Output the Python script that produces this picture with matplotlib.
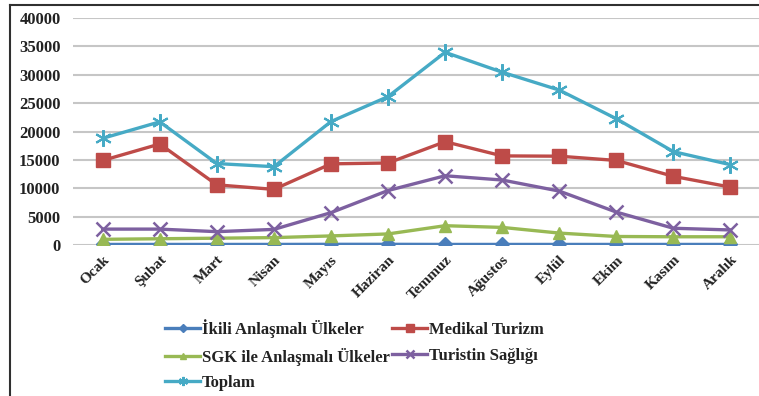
import matplotlib
matplotlib.use("Agg")
import matplotlib.pyplot as plt
from matplotlib.lines import Line2D

months = ["Ocak", "Şubat", "Mart", "Nisan", "Mayıs", "Haziran", "Temmuz",
          "Ağustos", "Eylül", "Ekim", "Kasım", "Aralık"]
ikili = [100, 100, 100, 100, 120, 120, 100, 100, 100, 100, 100, 100]
medikal = [14900, 17800, 10600, 9800, 14300, 14450, 18200, 15700, 15650, 14900, 12100, 10200]
sgk = [1000, 1100, 1200, 1300, 1600, 1950, 3400, 3100, 2100, 1500, 1450, 1450]
turistin = [2800, 2800, 2350, 2750, 5700, 9600, 12200, 11450, 9500, 5800, 2950, 2650]
toplam = [18800, 21700, 14350, 13800, 21750, 26150, 33950, 30450, 27300, 22250, 16450, 14150]
yticks = [0, 5000, 10000, 15000, 20000, 25000, 30000, 35000, 40000]

plt.rcParams['font.family'] = ['Liberation Serif', 'DejaVu Serif']

fig = plt.figure(figsize=(7.59, 3.96), dpi=100)
ax = fig.add_axes([73/759, 1-245/396, 1-73/759, (245-18)/396])

x = list(range(len(months)))
lw = 2.4
h1, = ax.plot(x, ikili, color='#4A7EBB', lw=lw, marker='D', ms=7, label='İkili Anlaşmalı Ülkeler', zorder=3)
h2, = ax.plot(x, medikal, color='#BE4B48', lw=lw, marker='s', ms=10, label='Medikal Turizm', zorder=3)
h3, = ax.plot(x, sgk, color='#98B954', lw=lw, marker='^', ms=9, label='SGK ile Anlaşmalı Ülkeler', zorder=3)
h4, = ax.plot(x, turistin, color='#7D60A0', lw=lw, marker='x', ms=10, mew=1.8, label='Turistin Sağlığı', zorder=3)
h5, = ax.plot(x, toplam, color='#46AAC5', lw=lw, marker=(6, 2, 0), ms=12, mew=1.5, label='Toplam', zorder=3)

ax.set_xlim(-0.52, 11.5)
ax.set_ylim(0, 40000)
ax.set_yticks(yticks)
ax.set_yticklabels([str(v) for v in yticks], fontsize=12, fontweight='bold', color='#222222')
ax.set_xticks(x)
ax.set_xticklabels(months, rotation=45, ha='right', rotation_mode='anchor',
                   fontsize=11, fontweight='bold', color='#222222')
ax.tick_params(axis='both', length=0)
ax.tick_params(axis='y', pad=9)
ax.tick_params(axis='x', pad=6)
ax.grid(axis='y', color='#c6c6c6', lw=1.5, zorder=0)
for s in ax.spines.values():
    s.set_visible(False)

handles = [h1, h3, h5, h2, h4]
leg = fig.legend(handles=handles, labels=[h.get_label() for h in handles], ncol=2,
                 loc='upper left', bbox_to_anchor=(150/759, 1-304/396), frameon=False,
                 prop={'size': 12, 'weight': 'bold'}, handlelength=2.1, handletextpad=0.1,
                 columnspacing=0.15, labelspacing=0.58, markerscale=0.55)
for t in leg.get_texts():
    t.set_color('#222222')

fig.add_artist(Line2D([10/759, 10/759], [0, 1-5/396], color='#303030', lw=1.5, transform=fig.transFigure))
fig.add_artist(Line2D([10/759, 1], [1-5/396, 1-5/396], color='#303030', lw=1.5, transform=fig.transFigure))

fig.savefig('out.png', dpi=100)
